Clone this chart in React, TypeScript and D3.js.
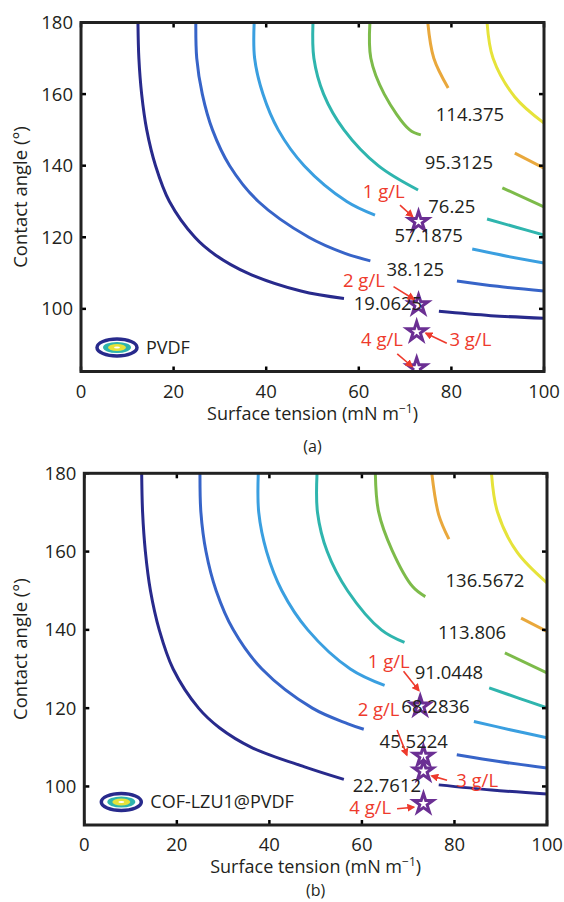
import React from "react";
import * as d3 from "d3";

// contour colours (parula)
const colors = ["#282a8c", "#3764c8", "#3a9fe0", "#2fb5ae", "#7dbb4a", "#e9a83c", "#e6e33a"];

const xTicks = [0, 20, 40, 60, 80, 100];
const yTicks = [100, 120, 140, 160, 180];

// panel (a): each level -> segments -> [surface tension, contact angle]
const contoursA = [
  [
    [[12.3, 180], [12.5, 170], [13.1, 160], [14.2, 150], [16.1, 140], [19.1, 130], [24.6, 120], [29.1, 115], [36, 110], [47.5, 105], [56.8, 102.9]],
    [[77.3, 99.3], [88.5, 98.1], [100, 97.4]],
  ],
  [
    [[24.8, 180], [25, 170], [26.2, 160], [28.4, 150], [32.1, 140], [38.3, 130], [49.2, 120], [57, 115.5], [62.5, 113.4]],
    [[81.2, 107.8], [90, 106.3], [100, 105]],
  ],
  [
    [[37.4, 180], [37.5, 170], [39.3, 160], [42.6, 150], [48.2, 140], [57.4, 130], [63.5, 126.2]],
    [[84.5, 116.7], [92, 114.7], [100, 112.8]],
  ],
  [
    [[50.1, 180], [50.3, 170], [52.4, 160], [56.8, 150], [64.2, 140], [72.8, 133.2]],
    [[87.7, 125.1], [94, 122.8], [100, 120.6]],
  ],
  [
    [[62.4, 180], [62.6, 170], [65.5, 160], [71, 150], [73.4, 148.6]],
    [[91, 133.8], [100, 128.5]],
  ],
  [
    [[74.9, 180], [76.2, 170], [79.3, 161.7]],
    [[93.7, 143.5], [100, 139.3]],
  ],
  [[[87.7, 180], [89, 170], [93.7, 159.2], [100, 151.9]]],
];

// panel (b)
const contoursB = [
  [
    [[12.4, 180], [12.6, 170], [13.2, 160], [14.3, 150], [16.2, 140], [19.2, 130], [24.7, 120], [29.2, 115], [36.1, 110], [47.6, 105], [56.1, 101.8]],
    [[76.6, 100.4], [88, 99.1], [100, 98.1]],
  ],
  [
    [[25, 180], [25.2, 170], [26.3, 160], [28.5, 150], [32.2, 140], [38.4, 130], [49.3, 120], [57, 116], [60.4, 114.6]],
    [[80.5, 108.1], [90, 106.3], [100, 104.7]],
  ],
  [
    [[37.6, 180], [37.7, 170], [39.4, 160], [42.7, 150], [48.3, 140], [57.5, 130], [64.9, 125.8]],
    [[84.2, 116.6], [92, 114.5], [100, 112.4]],
  ],
  [
    [[50.3, 180], [50.4, 170], [52.5, 160], [56.9, 150], [64.2, 140], [69.2, 136.8]],
    [[87.5, 125.2], [94, 122.5], [100, 120.1]],
  ],
  [
    [[62.9, 180], [63.6, 170.2], [66.5, 160.4], [71, 151], [73.7, 148.5]],
    [[90.9, 134.1], [100, 129]],
  ],
  [
    [[75.1, 180], [76.6, 169.4], [78.8, 163.2]],
    [[94.4, 143], [100, 139.6]],
  ],
  [[[88, 180], [89.3, 170.1], [93.5, 159.9], [100, 152]]],
];

const labelsA = ["19.0625", "38.125", "57.1875", "76.25", "95.3125", "114.375"];
const labelPosA = [[66.3, 101.4], [72.2, 110.9], [75.1, 120.6], [80.1, 128.5], [81.6, 141.0], [84.0, 154.2]];
const labelsB = ["22.7612", "45.5224", "68.2836", "91.0448", "113.806", "136.5672"];
const labelPosB = [[65.4, 100.3], [71.2, 111.6], [75.9, 120.4], [78.8, 129.0], [83.8, 139.2], [86.6, 152.6]];

const doses = ["1 g/L", "2 g/L", "3 g/L", "4 g/L"];
const starsA = [[72.9, 124.4], [72.9, 101.1], [72.5, 93.6], [72.5, 83.5]];
const starsB = [[72.6, 120.5], [73.3, 107.7], [73.3, 103.9], [73.3, 95.6]];
const doseTextA = [[65.4, 132.7], [61.1, 107.8], [84.1, 91.3], [65.0, 91.3]];
const doseTextB = [[65.8, 132.0], [63.6, 119.6], [84.9, 101.6], [61.8, 94.5]];
const arrowsA = [
  [[68.9, 129.0], [71.6, 125.8]],
  [[67.5, 106.2], [71.9, 102.7]],
  [[79.0, 90.4], [74.5, 93.2]],
  [[68.3, 87.4], [71.5, 83.9]],
];
const arrowsB = [
  [[69.0, 129.4], [72.3, 124.5]],
  [[67.6, 114.4], [69.7, 108.0]],
  [[78.4, 101.6], [75.1, 102.7]],
  [[67.6, 94.3], [71.2, 94.7]],
];

const font = "'Open Sans', 'Noto Sans', sans-serif";
const red = "#ee3a2c";
const ink = "#231f20";

function Panel({ id, left, right, top, bottom, yMin, contours, labels, labelPos, stars, doseText, arrows, legend, tag, tagDy }) {
  const x = d3.scaleLinear().domain([0, 100]).range([left, right]);
  const y = d3.scaleLinear().domain([yMin, 180]).range([bottom, top]);
  const line = d3
    .line()
    .x((d) => x(d[0]))
    .y((d) => y(d[1]))
    .curve(d3.curveCatmullRom.alpha(0.5));
  const star = d3.symbol().type(d3.symbolStar).size(115)();
  const midY = (top + bottom) / 2;
  const midX = (left + right) / 2;
  return (
    <g>
      <defs>
        <clipPath id={"clip" + id}>
          <rect x={left} y={top} width={right - left} height={bottom - top} />
        </clipPath>
        <marker id={"arr" + id} viewBox="0 0 10 10" refX="8" refY="5" markerWidth="5" markerHeight="5" orient="auto">
          <path d="M0,0 L10,5 L0,10 z" fill={red} />
        </marker>
      </defs>
      <g clipPath={`url(#clip${id})`}>
        {contours.map((segs, i) =>
          segs.map((s, j) => (
            <path key={i + "-" + j} d={line(s)} fill="none" stroke={colors[i]} strokeWidth={3} strokeLinejoin="round" />
          ))
        )}
        {stars.map((p, i) => (
          <path key={"s" + i} d={star} transform={`translate(${x(p[0])},${y(p[1])})`} fill="#fff" stroke="#6b2f93" strokeWidth={3} />
        ))}
      </g>
      {labels.map((t, i) => (
        <text key={"l" + i} x={x(labelPos[i][0])} y={y(labelPos[i][1])} dy="0.35em" textAnchor="middle" fontSize={18.5} fontFamily={font} fill={ink}>
          {t}
        </text>
      ))}
      {arrows.map((a, i) => (
        <line key={"a" + i} x1={x(a[0][0])} y1={y(a[0][1])} x2={x(a[1][0])} y2={y(a[1][1])} stroke={red} strokeWidth={1.6} markerEnd={`url(#arr${id})`} />
      ))}
      {doses.map((t, i) => (
        <text key={"d" + i} x={x(doseText[i][0])} y={y(doseText[i][1])} dy="0.35em" textAnchor="middle" fontSize={18.5} fontFamily={font} fill={red}>
          {t}
        </text>
      ))}
      {/* legend */}
      <g transform={`translate(${left + legend.dx},${bottom - legend.dy})`}>
        <ellipse rx={20} ry={8.5} fill="#fff" stroke={colors[0]} strokeWidth={3.5} />
        <ellipse rx={14} ry={5.5} fill={colors[3]} />
        <ellipse rx={9} ry={3.5} fill="#e6e33a" />
        <ellipse rx={3} ry={1} fill="#fff" />
        <text x={29} dy="0.35em" fontSize={18} fontFamily={font} fill={ink}>
          {legend.text}
        </text>
      </g>
      {/* axes */}
      {xTicks.map((t) => (
        <g key={"x" + t}>
          <line x1={x(t)} x2={x(t)} y1={bottom} y2={bottom - 5} stroke="#000" strokeWidth={2.5} />
          <line x1={x(t)} x2={x(t)} y1={top} y2={top + 5} stroke="#000" strokeWidth={2.5} />
          <text x={x(t)} y={bottom + 26} textAnchor="middle" fontSize={18.5} fontFamily={font} fill={ink}>
            {t}
          </text>
        </g>
      ))}
      {yTicks.map((t) => (
        <g key={"y" + t}>
          <line x1={left} x2={left + 5} y1={y(t)} y2={y(t)} stroke="#000" strokeWidth={2.5} />
          <line x1={right} x2={right - 5} y1={y(t)} y2={y(t)} stroke="#000" strokeWidth={2.5} />
          <text x={left - 8} y={y(t)} dy="0.35em" textAnchor="end" fontSize={18.5} fontFamily={font} fill={ink}>
            {t}
          </text>
        </g>
      ))}
      <rect x={left} y={top} width={right - left} height={bottom - top} fill="none" stroke="#222" strokeWidth={3} />
      <text transform={`translate(21,${midY}) rotate(-90)`} textAnchor="middle" dy="0.35em" fontSize={18.5} fontFamily={font} fill={ink}>
        Contact angle (°)
      </text>
      <text x={midX} y={bottom + 48} textAnchor="middle" fontSize={18} fontFamily={font} fill={ink}>
        Surface tension (mN m<tspan dy="-7" fontSize={12}>−1</tspan>
        <tspan dy="7">)</tspan>
      </text>
      <text x={midX} y={bottom + tagDy} textAnchor="middle" fontSize={16} fontFamily={font} fill={ink}>
        {tag}
      </text>
    </g>
  );
}

export default function App() {
  return (
    <svg width={564} height={902} style={{ position: "absolute", left: 0, top: 0, background: "#fff" }}>
      <Panel
        id="a"
        left={81}
        right={544}
        top={22.5}
        bottom={371.5}
        yMin={82.5}
        contours={contoursA}
        labels={labelsA}
        labelPos={labelPosA}
        stars={starsA}
        doseText={doseTextA}
        arrows={arrowsA}
        legend={{ dx: 36, dy: 24, text: "PVDF" }}
        tag="(a)"
        tagDy={80}
      />
      <Panel
        id="b"
        left={84.3}
        right={547}
        top={473.3}
        bottom={825}
        yMin={90.15}
        contours={contoursB}
        labels={labelsB}
        labelPos={labelPosB}
        stars={starsB}
        doseText={doseTextB}
        arrows={arrowsB}
        legend={{ dx: 37, dy: 23, text: "COF-LZU1@PVDF" }}
        tag="(b)"
        tagDy={71}
      />
    </svg>
  );
}
